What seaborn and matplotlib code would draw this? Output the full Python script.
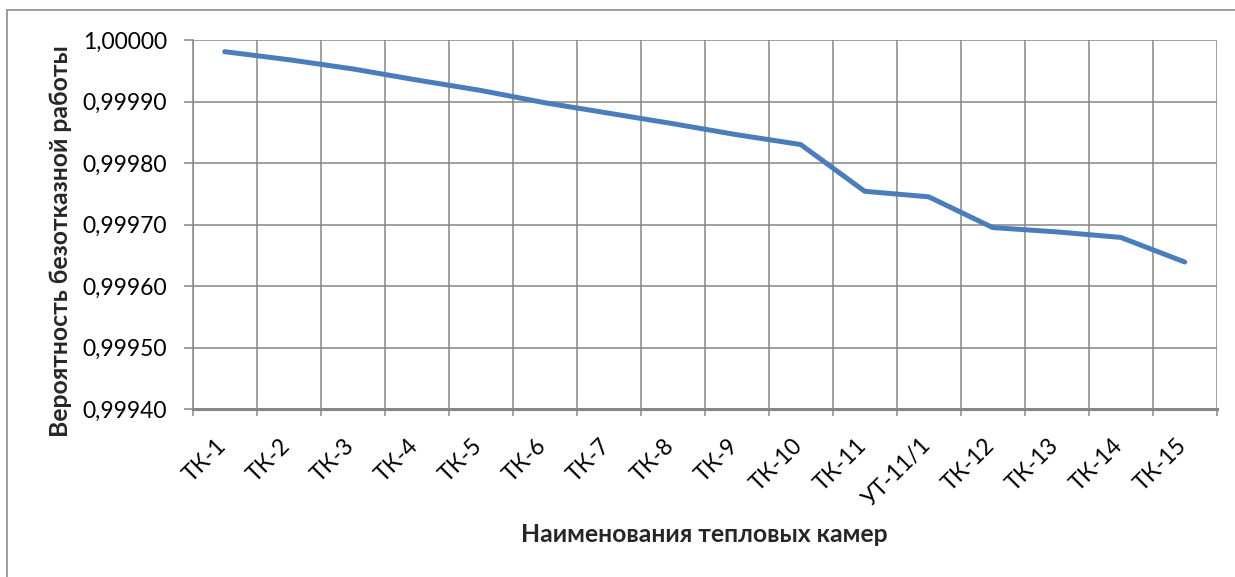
import numpy as np
import pandas as pd
import seaborn as sns
import matplotlib.pyplot as plt
import matplotlib.transforms as mtransforms
from matplotlib.lines import Line2D
from matplotlib.ticker import FuncFormatter

# Heat chambers along the network and the reliability at each of them
chambers = ["ТК-1", "ТК-2", "ТК-3", "ТК-4", "ТК-5", "ТК-6", "ТК-7", "ТК-8",
            "ТК-9", "ТК-10", "ТК-11", "УТ-11/1", "ТК-12", "ТК-13", "ТК-14", "ТК-15"]
reliability = [0.999981, 0.999968, 0.999953, 0.999935, 0.999918, 0.999898,
               0.999881, 0.999864, 0.999846, 0.999830, 0.999754, 0.999745,
               0.999695, 0.999688, 0.999679, 0.999639]
y_ticks = [0.99940, 0.99950, 0.99960, 0.99970, 0.99980, 0.99990, 1.00000]

sns.set_theme(style="white")
plt.rcParams['font.family'] = ['Lato', 'DejaVu Sans']

n = len(chambers)
df = pd.DataFrame({"pos": np.arange(n), "chamber": chambers, "p": reliability})

W, H = 1235, 577
fig = plt.figure(figsize=(W / 100, H / 100), dpi=100)
fig.patch.set_facecolor("white")

left, right, top, bottom = 192.7, 1216.7, 40, 409
ax = fig.add_axes([left / W, 1 - bottom / H, (right - left) / W, (bottom - top) / H])

grid_c = "#868686"
sns.lineplot(data=df, x="pos", y="p", ax=ax, color="#4A7EBB", linewidth=3.6,
             solid_capstyle="round", solid_joinstyle="round", zorder=5)

ax.set_xlim(-0.5, n - 0.5)
ax.set_ylim(y_ticks[0], y_ticks[-1])
ax.set_yticks(y_ticks)
ax.yaxis.set_major_formatter(FuncFormatter(lambda v, _: f"{v:.5f}".replace(".", ",")))

ax.set_xticks(np.arange(n))
ax.set_xticklabels(chambers, rotation=45, ha="right", va="top", fontsize=16.5,
                   color="black")
ax.set_xticks(np.arange(-0.5, n), minor=True)

ax.grid(False)
ax.grid(True, which="minor", axis="x", color=grid_c, linewidth=1.1)
ax.grid(True, which="major", axis="y", color=grid_c, linewidth=1.1)
ax.set_axisbelow(True)

ax.tick_params(axis="x", which="major", length=0, pad=18.5)
ax.tick_params(axis="x", which="minor", length=5, width=1.1, color=grid_c,
               direction="out", bottom=True)
ax.tick_params(axis="y", which="major", length=6.5, width=1.1, color=grid_c,
               direction="out", left=True, pad=12, labelsize=16.5, labelcolor="black")

# shift rotated labels slightly so their ends sit near the category centres
offset = mtransforms.ScaledTranslation(6 / 100, 0, fig.dpi_scale_trans)
for lbl in ax.get_xticklabels():
    lbl.set_transform(lbl.get_transform() + offset)

for s in ["top", "right"]:
    ax.spines[s].set_visible(False)
ax.spines["left"].set_color(grid_c)
ax.spines["left"].set_linewidth(1.1)
ax.spines["bottom"].set_color(grid_c)
ax.spines["bottom"].set_linewidth(2.2)

ax.set_xlabel("")
ax.set_ylabel("")
fig.text(704 / W, 1 - 534 / H, "Наименования тепловых камер", ha="center",
         va="center", fontsize=17.8, fontweight="bold")
fig.text(61 / W, 1 - 241 / H, "Вероятность безотказной работы", ha="center",
         va="center", rotation=90, fontsize=17.8, fontweight="bold")

# outer chart border
fig.add_artist(Line2D([7 / W, 7 / W], [0, 1 - 10 / H], transform=fig.transFigure,
                      color="#8C8C8C", linewidth=1.2))
fig.add_artist(Line2D([7 / W, 1], [1 - 10 / H, 1 - 10 / H], transform=fig.transFigure,
                      color="#8C8C8C", linewidth=1.2))

fig.savefig("out.png", dpi=100)
